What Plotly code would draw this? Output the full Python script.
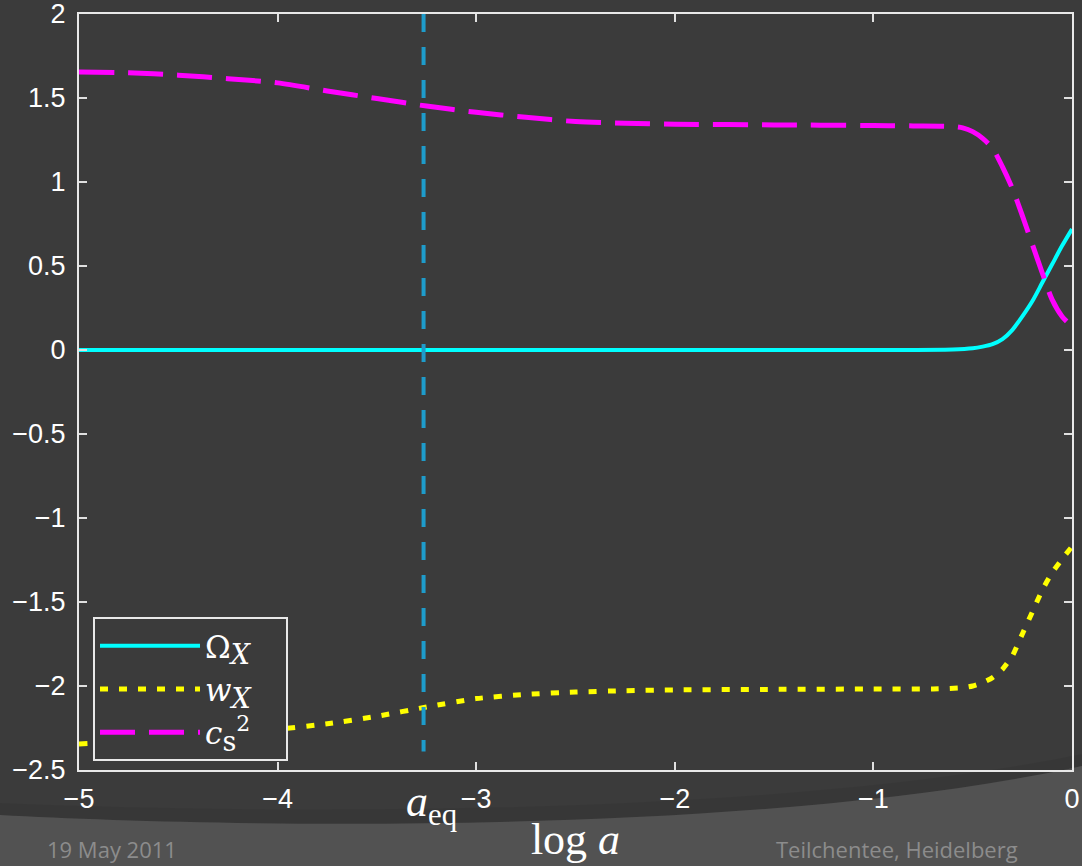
import plotly.graph_objects as go

# Evolution of the dark-fluid quantities versus log a
log_a_omega = [-5, -1, -0.6, -0.5, -0.45, -0.4, -0.35, -0.3, -0.25, -0.2, -0.15, -0.1, -0.05, 0]
omega_x = [0, 0, 0.003, 0.01, 0.02, 0.035, 0.065, 0.12, 0.2, 0.29, 0.40, 0.51, 0.62, 0.72]

log_a_w = [-5, -4.75, -4.5, -4.25, -4, -3.75, -3.5, -3.25, -3, -2.75, -2.5, -2.25, -2,
           -1.5, -1, -0.7, -0.55, -0.5, -0.45, -0.4, -0.35, -0.3, -0.25, -0.2, -0.15,
           -0.1, -0.05, 0]
w_x = [-2.345, -2.33, -2.31, -2.285, -2.258, -2.225, -2.18, -2.125, -2.075, -2.05, -2.036,
       -2.028, -2.023, -2.02, -2.018, -2.018, -2.01, -2.0, -1.98, -1.95, -1.9, -1.82, -1.69,
       -1.56, -1.43, -1.325, -1.245, -1.17]

log_a_cs = [-5, -4.75, -4.5, -4.25, -4, -3.75, -3.5, -3.25, -3, -2.75, -2.5, -2.25, -2,
            -1.5, -1, -0.8, -0.6, -0.55, -0.5, -0.45, -0.4, -0.35, -0.3, -0.25, -0.2,
            -0.15, -0.1, -0.05, 0]
cs2 = [1.655, 1.65, 1.636, 1.615, 1.59, 1.542, 1.497, 1.452, 1.415, 1.385, 1.36, 1.35,
       1.344, 1.34, 1.336, 1.334, 1.33, 1.322, 1.30, 1.26, 1.20, 1.09, 0.96, 0.80, 0.63,
       0.46, 0.30, 0.2, 0.14]

# matter-radiation equality marker
a_eq = -3.265
a_eq_span = [2, -2.39]

x_ticks = [-5, -4, -3, -2, -1, 0]
y_ticks = [-2.5, -2, -1.5, -1, -0.5, 0, 0.5, 1, 1.5, 2]

BG = "#3b3b3b"
W, H = 1082, 866
L, R, T, B = 79, 10, 14, 96


def px_to_paper(px, py):
    return (px - L) / (W - L - R), (H - B - py) / (H - T - B)


def path_from(points):
    out = []
    for cmd, pts in points:
        coords = " ".join("%.5f,%.5f" % px_to_paper(*p) for p in pts)
        out.append(cmd + " " + coords if coords else cmd)
    return " ".join(out)


def sized(s, px):
    return "<span style='font-size:%dpx'>%s</span>" % (px, s)


PAD = "&nbsp;&nbsp;&nbsp;"

fig = go.Figure()

fig.add_trace(go.Scatter(
    x=log_a_omega, y=omega_x, mode="lines",
    name="Ω<sub>" + sized("<i>X</i>", 27) + "</sub>" + PAD,
    line=dict(color="#00ffff", width=4, shape="spline", smoothing=0.8)))
fig.add_trace(go.Scatter(
    x=log_a_w, y=w_x, mode="lines",
    name="<i>w</i><sub>" + sized("<i>X</i>", 27) + "</sub>" + PAD,
    line=dict(color="#ffff00", width=5, dash="8px,11px", shape="spline", smoothing=0.6)))
fig.add_trace(go.Scatter(
    x=log_a_cs, y=cs2, mode="lines",
    name="<i>c</i><sub>" + sized("s", 27) + "</sub><sup>" + sized("2", 22) + "</sup>" + PAD,
    line=dict(color="#ff00ff", width=5, dash="35px,14px", shape="spline", smoothing=0.8)))
fig.add_trace(go.Scatter(
    x=[a_eq, a_eq], y=a_eq_span, mode="lines", showlegend=False,
    line=dict(color="#1e9ccb", width=4, dash="18px,15px")))

# slide footer band
swoosh = path_from([("M", [(0, 815)]), ("C", [(220, 827), (750, 838), (1082, 766)]),
                    ("L", [(1082, 866)]), ("L", [(0, 866)]), ("Z", [])])
shadow = path_from([("M", [(0, 803)]), ("C", [(220, 812), (750, 822), (1082, 754)]),
                    ("L", [(1082, 766)]), ("C", [(750, 838), (220, 827), (0, 815)]), ("Z", [])])
fig.add_shape(type="path", path=shadow, xref="paper", yref="paper", layer="below",
              fillcolor="rgba(0,0,0,0.06)", line=dict(width=0))
fig.add_shape(type="path", path=swoosh, xref="paper", yref="paper", layer="below",
              fillcolor="#525252", line=dict(width=0))

fig.add_annotation(x=a_eq, y=0, xref="x", yref="paper", yshift=-64, xshift=8,
                   text="<i>a</i><sub>eq</sub>", showarrow=False,
                   font=dict(family="Liberation Serif", size=44, color="white"))

fx0, fy0 = px_to_paper(45, 849)
fig.add_annotation(x=fx0, y=fy0, xref="paper", yref="paper", xanchor="left",
                   yanchor="middle", text="19 May 2011", showarrow=False,
                   font=dict(family="Open Sans", size=22, color="#8c8c8c"))
fx1, fy1 = px_to_paper(1020, 849)
fig.add_annotation(x=fx1, y=fy1, xref="paper", yref="paper", xanchor="right",
                   yanchor="middle", text="Teilchentee, Heidelberg", showarrow=False,
                   font=dict(family="Open Sans", size=22, color="#8c8c8c"))

axis_common = dict(
    showgrid=False, zeroline=False, showline=True, linecolor="#e8e8e8", linewidth=2,
    mirror="ticks", ticks="inside", ticklen=8, tickwidth=1.5, tickcolor="#e0e0e0",
    ticklabeloverflow="allow", automargin=False,
    tickfont=dict(family="Liberation Sans", size=27, color="white"),
)

lx, ly = px_to_paper(93, 617)
fig.update_layout(
    width=W, height=H,
    margin=dict(l=L, r=R, t=T, b=B),
    paper_bgcolor=BG, plot_bgcolor=BG,
    xaxis=dict(range=[-5, 0], tickvals=x_ticks, ticklabelstandoff=4,
               title=dict(text="log <i>a</i>", standoff=10,
                          font=dict(family="Liberation Serif", size=44, color="white")),
               **axis_common),
    yaxis=dict(range=[-2.5, 2], tickvals=y_ticks, ticklabelstandoff=6, **axis_common),
    legend=dict(x=lx, y=ly, xanchor="left", yanchor="top", bgcolor=BG,
                bordercolor="#e8e8e8", borderwidth=2, itemwidth=100,
                font=dict(family="DejaVu Serif", size=31, color="white"),
                tracegroupgap=0),
    showlegend=True,
)

fig.write_html("out.html")
